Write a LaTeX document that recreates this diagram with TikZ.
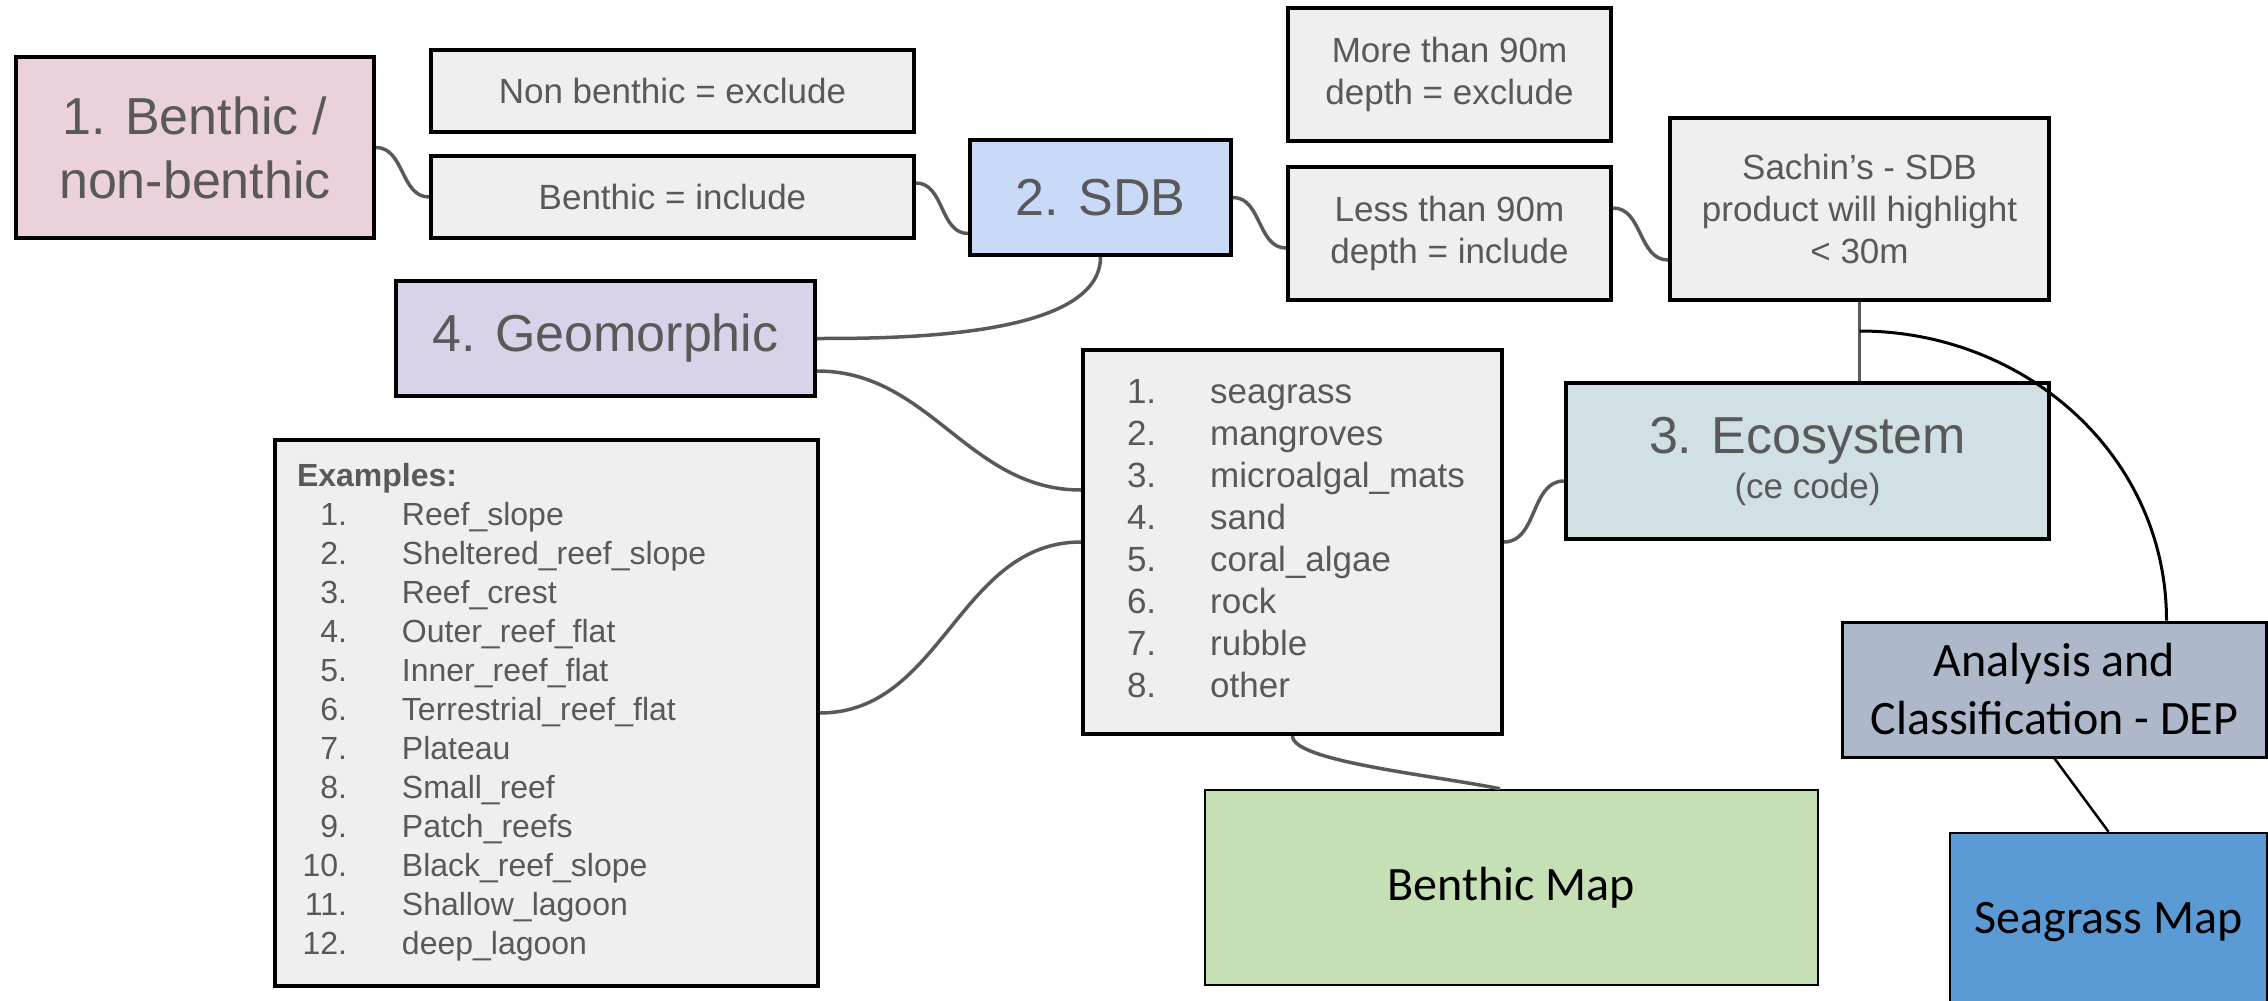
\documentclass[tikz,border=0pt]{standalone}
\usepackage{fontspec}
\setmainfont{Liberation Sans}
\newfontfamily\calibri{Carlito}
\usetikzlibrary{calc}
\definecolor{boxgray}{HTML}{EFEFEF}
\definecolor{textgray}{HTML}{595959}
\definecolor{pinkbox}{HTML}{EAD1DC}
\definecolor{bluebox}{HTML}{C9DAF8}
\definecolor{purplebox}{HTML}{D9D2E9}
\definecolor{tealbox}{HTML}{D0E0E3}
\definecolor{greenbox}{HTML}{C5E0B4}
\definecolor{slatebox}{HTML}{ADB9CA}
\definecolor{seablue}{HTML}{5B9BD5}
\begin{document}
\begin{tikzpicture}[x=1pt,y=-1pt,
  box/.style={draw=black,line width=4pt,fill=boxgray,text=textgray,align=center,inner sep=0pt},
  big/.style={font=\fontsize{52}{64}\selectfont},
  small/.style={font=\fontsize{35}{42}\selectfont},
  map/.style={draw=black,line width=2.5pt,align=center,inner sep=0pt,font=\calibri\fontsize{48}{58}\selectfont},
  link/.style={draw=textgray,line width=3.5pt},
  wire/.style={draw=black,line width=3pt}]
  \useasboundingbox (0,0) rectangle (2268,1001);
  \node[box,big,fill=pinkbox,minimum width=358,minimum height=181] (benth) at (195,147.5) {1. Benthic /\\non-benthic};
  \node[box,small,minimum width=483,minimum height=82] (nonben) at (672.5,91) {Non benthic = exclude};
  \node[box,small,minimum width=483,minimum height=82] (benin) at (672.5,197) {Benthic = include};
  \node[box,big,fill=bluebox,minimum width=261,minimum height=115] (sdb) at (1100.5,197.5) {2. SDB};
  \node[box,big,fill=purplebox,minimum width=419,minimum height=115] (geo) at (605.5,338.5) {4. Geomorphic};
  \node[box,small,minimum width=323,minimum height=133] (more) at (1449.5,74.5) {More than 90m\\depth = exclude};
  \node[box,small,minimum width=323,minimum height=133] (less) at (1449.5,233.5) {Less than 90m\\depth = include};
  \node[box,small,minimum width=379,minimum height=182] (sachin) at (1859.5,209) {Sachin’s - SDB\\product will highlight\\< 30m};
  \node[box,big,fill=tealbox,minimum width=483,minimum height=156] (eco) at (1807.5,461) {3. Ecosystem\\[-19pt]{\fontsize{35}{42}\selectfont(ce code)}};
  \node[box,anchor=north west,text width=419,minimum height=384,align=left,font=\fontsize{35}{42}\selectfont] (cls) at (1081,348) {%
    \begin{tabular}{@{\hspace{44pt}}l@{\hspace{54pt}}l@{}}
      1. & seagrass\\
      2. & mangroves\\
      3. & microalgal\_mats\\
      4. & sand\\
      5. & coral\_algae\\
      6. & rock\\
      7. & rubble\\
      8. & other
    \end{tabular}};
  \node[box,anchor=north west,text width=543,minimum height=546,align=left,font=\fontsize{32}{39}\selectfont] (examples) at (273,438) {%
    \begin{tabular}{@{\hspace{27.5pt}}r@{\hspace{55pt}}l@{}}
      \multicolumn{2}{@{\hspace{22pt}}l@{}}{\bfseries Examples:}\\
      1. & Reef\_slope\\
      2. & Sheltered\_reef\_slope\\
      3. & Reef\_crest\\
      4. & Outer\_reef\_flat\\
      5. & Inner\_reef\_flat\\
      6. & Terrestrial\_reef\_flat\\
      7. & Plateau\\
      8. & Small\_reef\\
      9. & Patch\_reefs\\
      10. & Black\_reef\_slope\\
      11. & Shallow\_lagoon\\
      12. & deep\_lagoon
    \end{tabular}};
  \node[map,fill=greenbox,minimum width=613,minimum height=195] (bmap) at (1511.5,887.5) {Benthic Map};
  \node[map,fill=slatebox,line width=3pt,minimum width=424,minimum height=135] (dep) at (2054.5,689.5) {Analysis and\\Classification - DEP};
  \node[map,fill=seablue,minimum width=317,minimum height=178] (sgmap) at (2108.5,922) {Seagrass Map};
  \coordinate (tap) at ([yshift=-29pt]sachin.south);
  \draw[link] (benth.east) to[out=0,in=180] (benin.west);
  \draw[link] ([yshift=14pt]benin.east) to[out=0,in=180] ([yshift=-36pt]sdb.west);
  \draw[link] (sdb.east) to[out=0,in=180] ([yshift=-14.5pt]less.west);
  \draw[link] ([yshift=25.5pt]less.east) to[out=0,in=180] ([yshift=-51pt]sachin.west);
  \draw[link,line width=2.5pt] (sachin.south) -- (sachin.south |- eco.north);
  \draw[wire] (tap) to[out=0,in=90] ([xshift=112pt]dep.north);
  \draw[link] (sdb.south) to[out=-90,in=0,looseness=0.7] (geo.east);
  \draw[link] ([yshift=-32.5pt]geo.east) to[out=0,in=180] ([yshift=52pt]cls.west);
  \draw[link] (examples.east) to[out=0,in=180] (cls.west);
  \draw[link] (cls.east) to[out=0,in=180] ([yshift=-20pt]eco.west);
  \draw[link] (cls.south) .. controls +(0,25) and +(-70,-14) .. ([xshift=-11.5pt]bmap.north);
  \draw[wire,line width=2.5pt] (dep.south) -- (sgmap.north);
\end{tikzpicture}
\end{document}
